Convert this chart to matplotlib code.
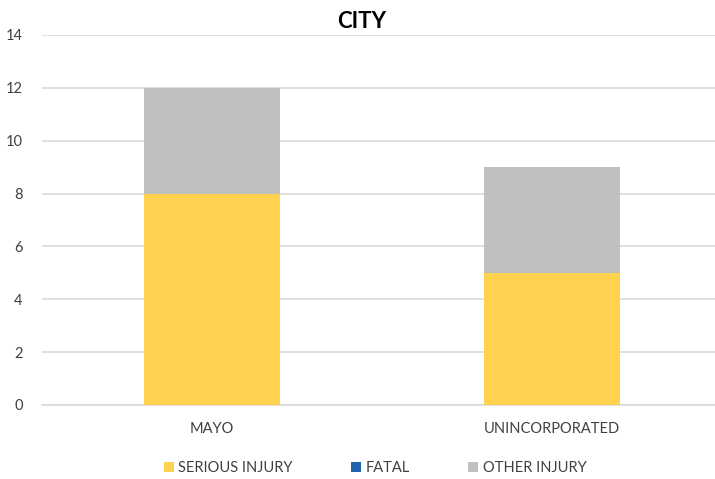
import numpy as np
import matplotlib

matplotlib.use("Agg")
import matplotlib.pyplot as plt

plt.rcParams["font.family"] = ["Lato", "DejaVu Sans"]

# data
cities = ["MAYO", "UNINCORPORATED"]
serious_injury = [8, 5]
fatal = [0, 0]
other_injury = [4, 4]
y_ticks = [0, 2, 4, 6, 8, 10, 12, 14]

colors = {"SERIOUS INJURY": "#FFD34F", "FATAL": "#1F64AD", "OTHER INJURY": "#BFBFBF"}

fig = plt.figure(figsize=(7.15, 4.79), dpi=100)
ax = fig.add_axes([42 / 715, 74 / 479, 680 / 715, 370 / 479])

x = np.arange(len(cities))
w = 0.4
bottom = np.zeros(len(cities))
for label, vals in [("SERIOUS INJURY", serious_injury), ("FATAL", fatal), ("OTHER INJURY", other_injury)]:
    ax.bar(x, vals, w, bottom=bottom, color=colors[label], label=label, zorder=3)
    bottom += np.array(vals)

ax.set_xlim(-0.5, 1.5)
ax.set_ylim(0, 14)
ax.set_yticks(y_ticks)
ax.set_xticks(x)
ax.set_xticklabels(cities)
ax.grid(axis="y", color="#D9D9D9", linewidth=1.2, zorder=0)
for s in ["top", "right", "left"]:
    ax.spines[s].set_visible(False)
ax.spines["bottom"].set_color("#D9D9D9")
ax.spines["bottom"].set_linewidth(1.2)
ax.tick_params(axis="both", length=0, colors="#404040", labelsize=10.5)
ax.tick_params(axis="x", pad=12)
ax.tick_params(axis="y", pad=14)

fig.text(362 / 715, 1 - 21 / 479, "CITY", ha="center", va="center",
         fontsize=16, fontweight="bold", color="black")

handles, labels = ax.get_legend_handles_labels()
fig.legend(handles, labels, loc="center", bbox_to_anchor=(375 / 715, 1 - 468 / 479),
           ncol=3, frameon=False, fontsize=10.5, handlelength=0.7, handleheight=0.7,
           columnspacing=4.0, handletextpad=0.3, labelcolor="#404040")

fig.savefig("out.png", dpi=100)
